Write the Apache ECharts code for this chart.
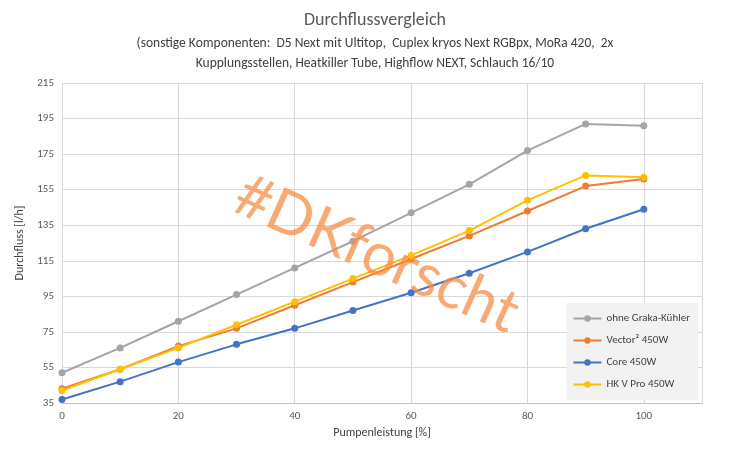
<!DOCTYPE html>
<html><head><meta charset="utf-8">
<script src="https://cdn.jsdelivr.net/npm/echarts@6/dist/echarts.min.js"></script>
<style>body{margin:0;background:#fff}#c{width:750px;height:475px}</style>
</head><body><div id="c"></div>
<script>
const pumpLevels = [0, 10, 20, 30, 40, 50, 60, 70, 80, 90, 100];
const ohneGraka = [52, 66, 81, 96, 111, 126, 142, 158, 177, 192, 191];
const vector = [43, 54, 67, 77, 90, 103, 116, 129, 143, 157, 161];
const core = [37, 47, 58, 68, 77, 87, 97, 108, 120, 133, 144];
const hkPro = [42, 54, 66, 79, 92, 105, 118, 132, 149, 163, 162];

const chart = echarts.init(document.getElementById("c"));
const font = "Calibri, Carlito, 'Liberation Sans', sans-serif";

function line(name, data, color) {
  return {
    name, type: "line", data: pumpLevels.map((x, i) => [x, data[i]]),
    symbol: "circle", symbolSize: 7, itemStyle: { color },
    lineStyle: { color, width: 2 }, z: 3,
  };
}

chart.setOption({
  textStyle: { fontFamily: font },
  title: {
    text: "Durchflussvergleich",
    subtext: "(sonstige Komponenten:  D5 Next mit Ultitop,  Cuplex kryos Next RGBpx, MoRa 420,  2x\nKupplungsstellen, Heatkiller Tube, Highflow NEXT, Schlauch 16/10",
    left: "center", top: 6, itemGap: 5,
    textStyle: { fontSize: 18, fontWeight: "normal", color: "#595959", fontFamily: font },
    subtextStyle: { fontSize: 13.5, color: "#404040", lineHeight: 20, fontFamily: font },
  },
  grid: { left: 62, right: 48, top: 83, bottom: 72 },
  legend: {
    orient: "vertical", right: 52, bottom: 75, itemGap: 11,
    backgroundColor: "#f2f2f2", padding: [10, 8, 10, 6],
    itemWidth: 28, itemHeight: 8,
    textStyle: { fontSize: 11, color: "#404040", fontFamily: font },
    data: ["ohne Graka-Kühler", "Vector² 450W", "Core 450W", "HK V Pro 450W"],
  },
  xAxis: {
    type: "value", min: 0, max: 110, interval: 20,
    name: "Pumpenleistung [%]", nameLocation: "middle", nameGap: 22,
    nameTextStyle: { fontSize: 12, color: "#404040" },
    axisLabel: { fontSize: 11, color: "#595959", showMaxLabel: false },
    axisLine: { lineStyle: { color: "#bfbfbf" } }, axisTick: { show: false },
    splitLine: { lineStyle: { color: "#d9d9d9" } },
  },
  yAxis: {
    type: "value", min: 35, max: 215, interval: 20,
    name: "Durchfluss [l/h]", nameLocation: "middle", nameGap: 34,
    nameTextStyle: { fontSize: 12, color: "#404040" },
    axisLabel: { fontSize: 11, color: "#595959" },
    axisLine: { show: false }, axisTick: { show: false },
    splitLine: { lineStyle: { color: "#d9d9d9" } },
  },
  graphic: [{
    type: "text", left: 226, top: 165, rotation: -0.42, z: 10,
    style: { text: "#DKforscht", fontSize: 60, fontFamily: "Lato, sans-serif", fill: "rgba(247,140,70,0.75)" },
  }],
  series: [
    line("ohne Graka-Kühler", ohneGraka, "#a5a5a5"),
    line("Vector² 450W", vector, "#ed7d31"),
    line("Core 450W", core, "#4472c4"),
    line("HK V Pro 450W", hkPro, "#ffc000"),
  ],
});
</script></body></html>
